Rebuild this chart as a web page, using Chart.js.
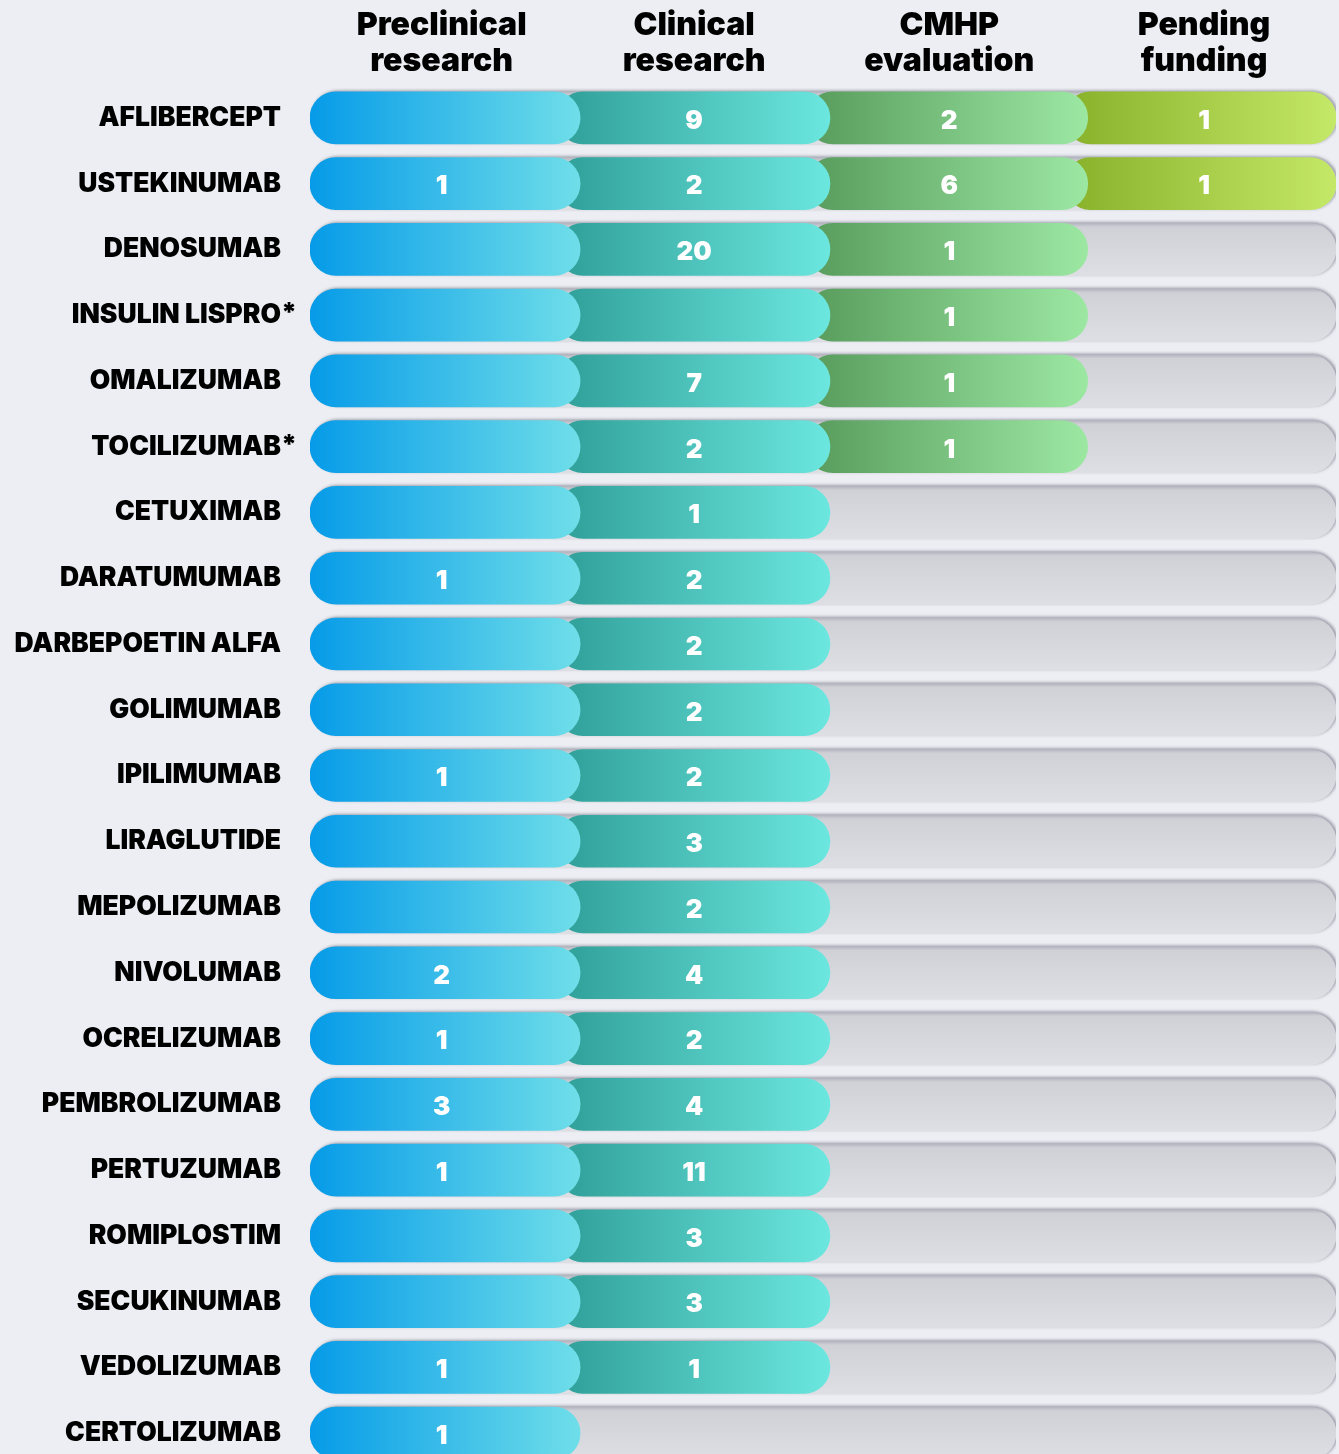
<!DOCTYPE html>
<html>
<head>
<meta charset="utf-8">
<script src="https://cdn.jsdelivr.net/npm/chart.js@4.4.0/dist/chart.umd.min.js"></script>
<style>
  html, body { margin: 0; padding: 0; background: #eceef3; overflow: hidden; }
  #wrap { width: 1339px; height: 1466px; }
</style>
</head>
<body>
<div id="wrap"><canvas id="myChart" width="1339" height="1466"></canvas></div>
<script>
// stage headers
const stages = [['Preclinical', 'research'], ['Clinical', 'research'], ['CMHP', 'evaluation'], ['Pending', 'funding']];
const drugs = ['AFLIBERCEPT', 'USTEKINUMAB', 'DENOSUMAB', 'INSULIN LISPRO*', 'OMALIZUMAB', 'TOCILIZUMAB*',
  'CETUXIMAB', 'DARATUMUMAB', 'DARBEPOETIN ALFA', 'GOLIMUMAB', 'IPILIMUMAB', 'LIRAGLUTIDE', 'MEPOLIZUMAB',
  'NIVOLUMAB', 'OCRELIZUMAB', 'PEMBROLIZUMAB', 'PERTUZUMAB', 'ROMIPLOSTIM', 'SECUKINUMAB', 'VEDOLIZUMAB', 'CERTOLIZUMAB'];
// counts per stage (null = no number shown)
const preclinical = [null, 1, null, null, null, null, null, 1, null, null, 1, null, null, 2, 1, 3, 1, null, null, 1, 1];
const clinical    = [9, 2, 20, null, 7, 2, 1, 2, 2, 2, 2, 3, 2, 4, 2, 4, 11, 3, 3, 1, null];
const cmhp        = [2, 6, 1, 1, 1, 1, null, null, null, null, null, null, null, null, null, null, null, null, null, null, null];
const pending     = [1, 1, null, null, null, null, null, null, null, null, null, null, null, null, null, null, null, null, null, null, null];

const stageValues = [preclinical, clinical, cmhp, pending];
const colors = [['#069be8', '#6fdee9'], ['#2f9f98', '#6be7df'], ['#589b5c', '#9ce8a3'], ['#88b12a', '#c4e867']];
const stageEnds = [1.053, 2.027, 3.032, 4];

// furthest stage each drug has reached
const reached = drugs.map((d, i) => {
  let r = -1;
  stageValues.forEach((arr, s) => { if (arr[i] != null) r = s; });
  return r;
});

function segRange(s) {
  const start = s === 0 ? 0 : stageEnds[s - 1] - 0.09;
  return [start, stageEnds[s]];
}
// where the header / number of a stage sits
function labelPos(s) {
  const r = segRange(s);
  return ((r[0] + r[1]) / 2 + s + 0.5) / 2;
}

function makeGrad(s) {
  return function (ctx) {
    const chart = ctx.chart;
    const x = chart.scales.x;
    if (!chart.chartArea || !x) return colors[s][0];
    const r = segRange(s);
    const x0 = x.getPixelForValue(r[0]), x1 = x.getPixelForValue(r[1]);
    if (!isFinite(x0) || !isFinite(x1)) return colors[s][0];
    const g = chart.ctx.createLinearGradient(x0, 0, x1, 0);
    g.addColorStop(0, colors[s][0]);
    g.addColorStop(1, colors[s][1]);
    return g;
  };
}

const datasets = stageValues.map((arr, s) => ({
  label: stages[s].join(' '),
  data: drugs.map((d, i) => reached[i] >= s ? segRange(s) : null),
  backgroundColor: makeGrad(s),
  borderRadius: 26,
  borderSkipped: false,
  barThickness: 52,
  grouped: false,
  order: s + 1
}));

datasets.push({
  label: 'track',
  data: drugs.map(() => [0, 4]),
  backgroundColor: function (ctx) {
    const chart = ctx.chart;
    const ys = chart.scales.y;
    if (!chart.chartArea || !ys) return '#d8d9de';
    const y = ys.getPixelForValue(ctx.dataIndex);
    if (!isFinite(y)) return '#d8d9de';
    const g = chart.ctx.createLinearGradient(0, y - 26, 0, y + 26);
    g.addColorStop(0, '#b4b5bf');
    g.addColorStop(0.07, '#d0d1d7');
    g.addColorStop(1, '#dedfe4');
    return g;
  },
  borderRadius: 26,
  borderSkipped: false,
  barThickness: 52,
  grouped: false,
  order: 10
});

const shadowPlugin = {
  id: 'trackShadow',
  beforeDatasetDraw(chart, args) {
    if (args.index !== 4) return;
    const c = chart.ctx;
    c.save();
    c.shadowColor = 'rgba(80,80,100,0.5)';
    c.shadowBlur = 3;
    c.shadowOffsetX = 2;
    c.shadowOffsetY = -1;
  },
  afterDatasetDraw(chart, args) {
    if (args.index !== 4) return;
    chart.ctx.restore();
  }
};

const textPlugin = {
  id: 'texts',
  afterDatasetsDraw(chart) {
    const c = chart.ctx;
    const x = chart.scales.x, y = chart.scales.y;
    c.save();
    // headers
    c.fillStyle = '#000';
    c.textAlign = 'center';
    c.textBaseline = 'middle';
    c.font = '900 32px Inter';
    stages.forEach((st, s) => {
      const cx = x.getPixelForValue(labelPos(s));
      c.fillText(st[0], cx, 25);
      c.fillText(st[1], cx, 61);
    });
    // drug names
    c.font = '900 26.5px Inter';
    drugs.forEach((d, i) => {
      const cy = y.getPixelForValue(i);
      const star = d.endsWith('*');
      const name = star ? d.slice(0, -1) : d;
      c.textAlign = 'right';
      c.fillText(name, 281, cy);
      if (star) {
        c.textAlign = 'left';
        c.fillText('*', 281, cy - 1);
      }
    });
    // values
    c.fillStyle = '#ffffff';
    c.textAlign = 'center';
    c.font = '900 26px Inter';
    drugs.forEach((d, i) => {
      const cy = y.getPixelForValue(i) + 3;
      stageValues.forEach((arr, s) => {
        if (arr[i] != null) c.fillText(String(arr[i]), x.getPixelForValue(labelPos(s)), cy);
      });
    });
    c.restore();
  }
};

new Chart(document.getElementById('myChart'), {
  type: 'bar',
  data: { labels: drugs, datasets: datasets },
  options: {
    indexAxis: 'y',
    responsive: false,
    animation: false,
    layout: { padding: { left: 310, right: 3, top: 85, bottom: 0 } },
    scales: {
      x: { type: 'linear', min: 0, max: 4, display: false },
      y: { type: 'category', display: false }
    },
    plugins: { legend: { display: false }, tooltip: { enabled: false } }
  },
  plugins: [shadowPlugin, textPlugin]
});
</script>
</body>
</html>
